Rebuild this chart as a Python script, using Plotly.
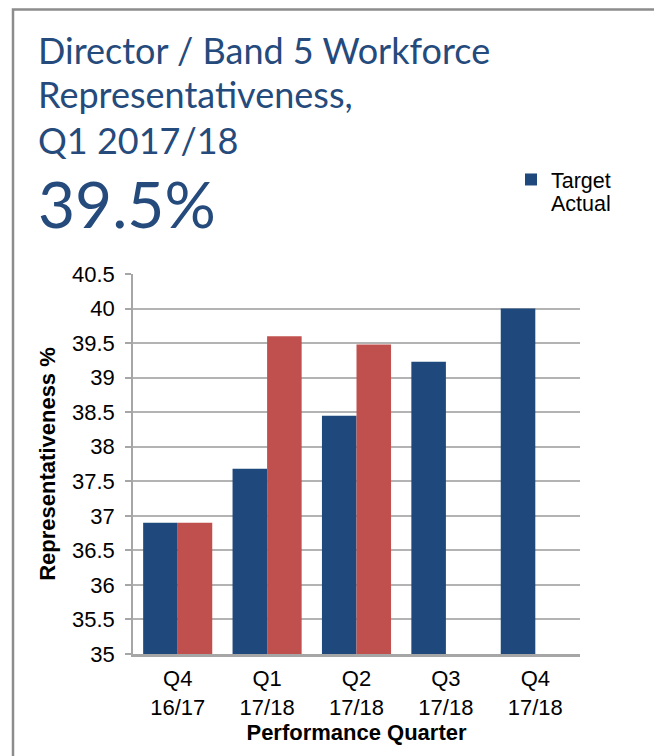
import plotly.graph_objects as go

categories = ["Q4<br>16/17", "Q1<br>17/18", "Q2<br>17/18", "Q3<br>17/18", "Q4<br>17/18"]
target = [36.9, 37.68, 38.45, 39.23, 40.0]
actual = [36.9, 39.6, 39.48, None, None]
y_ticks = [35, 35.5, 36, 36.5, 37, 37.5, 38, 38.5, 39, 39.5, 40, 40.5]

BLUE = "#1F497D"
RED = "#C0504D"
TITLE_BLUE = "#254A7C"

OFF = 8  # page body margin
W, H = 662, 756
L, R, T, B = 125, 90, 266, 110
pw, ph = W - L - R, H - T - B


def px(x):
    return (x - OFF - L) / pw


def py(y):
    return (H - B - (y - OFF)) / ph


fig = go.Figure()
fig.add_trace(go.Bar(x=categories, y=target, name="Target",
                     marker=dict(color=BLUE, line=dict(width=0)), showlegend=False))
fig.add_trace(go.Bar(x=categories, y=actual, name="Actual",
                     marker=dict(color=RED, line=dict(width=0)), showlegend=False))

# legend-only entries (reference shows no swatch next to "Actual")
fig.add_trace(go.Scatter(x=[None], y=[None], mode="markers", name="Target", legend="legend",
                         marker=dict(symbol="square", size=11, color=BLUE)))
fig.add_trace(go.Scatter(x=[None], y=[None], mode="markers", name="Actual", legend="legend2",
                         marker=dict(symbol="square", size=11, color="rgba(0,0,0,0)")))

leg_common = dict(xanchor="left", yanchor="middle",
                  font=dict(size=21.5, family="Liberation Sans, Arial", color="#000000"),
                  itemsizing="constant", bgcolor="rgba(0,0,0,0)", borderwidth=0)

fig.update_layout(
    width=W, height=H,
    margin=dict(l=L, r=R, t=T, b=B, pad=0),
    paper_bgcolor="white", plot_bgcolor="white",
    barmode="group", bargap=0.227, bargroupgap=0,
    font=dict(family="Liberation Sans, Arial", size=22, color="#000000"),
    legend=dict(x=px(511), y=py(179.5), **leg_common),
    legend2=dict(x=px(511), y=py(203), **leg_common),
    xaxis=dict(
        showline=True, linecolor="#a6a6a6", linewidth=2.5,
        ticks="", tickfont=dict(size=22), ticklabelstandoff=3,
        title=dict(text="<b>Performance Quarter</b>", font=dict(size=22), standoff=0),
    ),
    yaxis=dict(
        range=[35, 40.5], tickvals=y_ticks, ticktext=[f"{v:g}" for v in y_ticks],
        showline=True, linecolor="#a6a6a6", linewidth=1.5,
        showgrid=True, gridcolor="#b3b3b3", gridwidth=1.5,
        ticks="outside", ticklen=6, tickcolor="#a6a6a6", tickwidth=1.5,
        tickfont=dict(size=22), ticklabelstandoff=6,
        title=dict(text="<b>Representativeness %</b>", font=dict(size=22), standoff=10),
        zeroline=False,
    ),
    shapes=[dict(type="rect", xref="paper", yref="paper",
                 x0=px(13), x1=px(657), y0=py(780), y1=py(9.5),
                 line=dict(color="#8c8c8c", width=2.5), fillcolor="rgba(0,0,0,0)", layer="below")],
)

title_font = "Lato, Noto Sans, sans-serif"
for text, ycen in [("Director / Band 5 Workforce", 49.5), ("Representativeness,", 94), ("Q1 2017/18", 140)]:
    fig.add_annotation(text=text, xref="paper", yref="paper", x=px(36), y=py(ycen),
                       xanchor="left", yanchor="middle", showarrow=False,
                       font=dict(family=title_font, size=36, color=TITLE_BLUE))
fig.add_annotation(text="39.5%", xref="paper", yref="paper", x=px(36), y=py(203),
                   xanchor="left", yanchor="middle", showarrow=False,
                   font=dict(family=title_font, size=64, color=TITLE_BLUE))

fig.write_html("out.html")
